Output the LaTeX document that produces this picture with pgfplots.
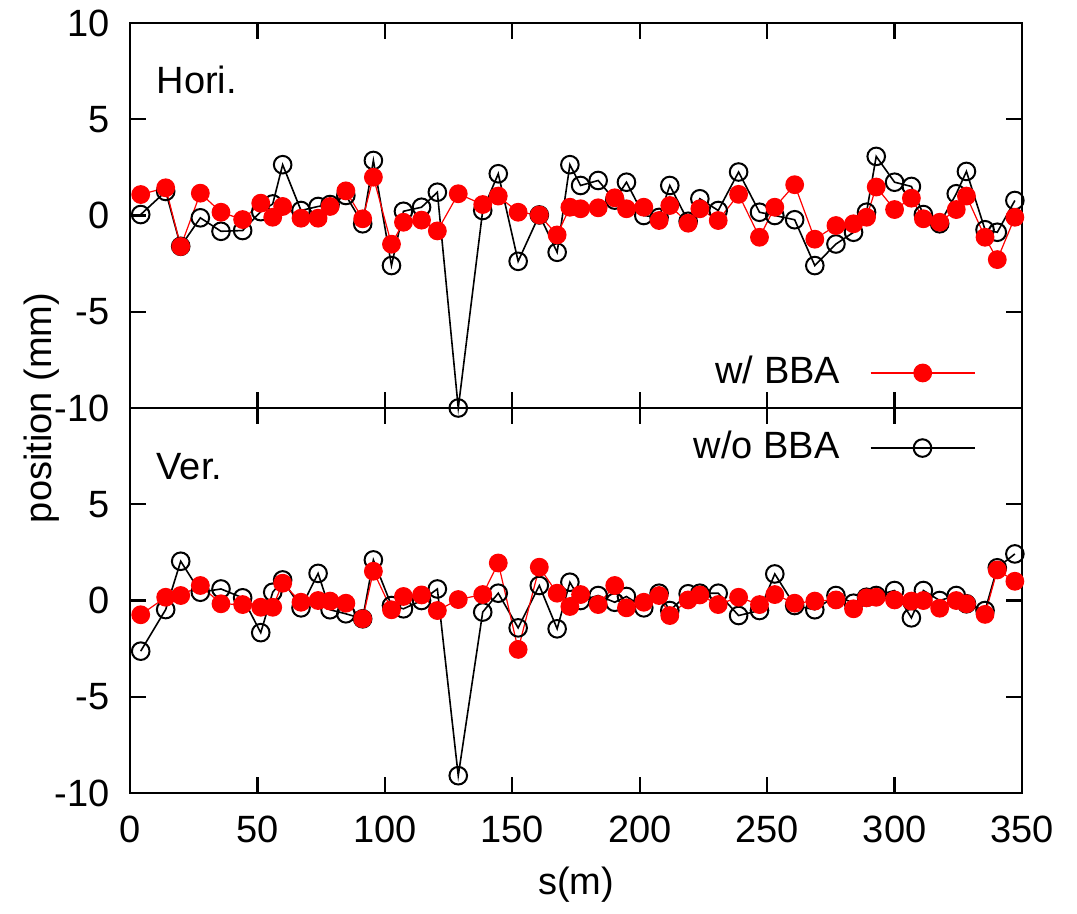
\documentclass[border=0pt]{standalone}
\usepackage{fontspec}
\setmainfont{Liberation Sans}
\usepackage{pgfplots}
\usepackage{pgfplotstable}
\pgfplotsset{compat=1.18}

\pgfplotstableread{
s hb hn vb vn
4.2 1.09 0.05 -0.74 -2.63
14.0 1.44 1.25 0.17 -0.47
19.9 -1.61 -1.60 0.26 2.04
27.6 1.16 -0.12 0.78 0.43
35.7 0.17 -0.82 -0.17 0.60
44.2 -0.21 -0.78 -0.21 0.14
51.3 0.64 0.20 -0.35 -1.67
56.0 -0.09 0.60 -0.35 0.43
59.9 0.47 2.64 0.90 1.07
67.1 -0.14 0.26 -0.09 -0.38
73.8 -0.14 0.47 0.00 1.41
78.5 0.47 0.57 -0.03 -0.48
84.7 1.28 1.04 -0.14 -0.69
91.3 -0.17 -0.43 -0.95 -0.95
95.5 1.99 2.86 1.52 2.11
102.6 -1.49 -2.60 -0.48 -0.26
107.3 -0.35 0.22 0.21 -0.43
114.4 -0.24 0.43 0.29 0.00
120.6 -0.80 1.21 -0.52 0.60
128.8 1.13 -10.0 0.05 -9.1
138.4 0.57 0.26 0.31 -0.60
144.5 1.01 2.17 1.95 0.38
152.3 0.17 -2.38 -2.54 -1.42
160.6 0.03 0.03 1.73 0.78
167.6 -1.01 -1.91 0.38 -1.47
172.6 0.43 2.64 -0.31 0.95
176.8 0.35 1.56 0.31 0.00
183.7 0.40 1.82 -0.21 0.26
190.2 0.92 0.80 0.78 -0.09
194.8 0.35 1.73 -0.38 0.21
201.6 0.43 0.00 -0.09 -0.38
207.6 -0.26 -0.10 0.26 0.38
211.8 0.52 1.56 -0.78 -0.52
219.0 -0.40 -0.30 0.03 0.35
223.6 0.35 0.87 0.29 0.38
230.8 -0.26 0.26 -0.21 0.38
238.8 1.10 2.26 0.17 -0.78
247.0 -1.13 0.17 -0.21 -0.52
253.0 0.43 0.00 0.31 1.38
260.8 1.60 -0.22 -0.14 -0.26
268.7 -1.23 -2.60 -0.03 -0.48
277.0 -0.52 -1.48 0.03 0.26
283.9 -0.43 -0.87 -0.43 -0.14
289.0 -0.09 0.17 0.14 0.17
292.8 1.48 3.07 0.17 0.26
300.0 0.31 1.73 0.03 0.52
306.6 0.90 1.51 -0.03 -0.90
311.3 -0.17 0.05 0.00 0.52
317.7 -0.35 -0.43 -0.40 0.00
324.2 0.31 1.13 0.00 0.26
328.2 1.01 2.29 -0.17 -0.17
335.5 -1.13 -0.74 -0.72 -0.52
340.3 -2.29 -0.87 1.59 1.70
347.2 -0.09 0.78 1.00 2.42
}\datatab

\pgfplotsset{
  myax/.style={
    scale only axis, width=223pt, height=96.25pt,
    xmin=0, xmax=350, ymin=-10, ymax=10,
    xtick={0,50,...,350}, ytick={-10,-5,0,5,10},
    tick align=inside, major tick length=4pt,
    tick style={line width=0.6pt, black},
    axis line style={line width=0.7pt},
    tick label style={font=\fontsize{9.5}{11}\selectfont},
    xticklabel style={yshift=-2.2pt},
    yticklabel style={xshift=-1.6pt},
    /pgf/number format/assume math mode=true,
    clip=false,
    legend plot pos=right,
    legend cell align=right,
    legend style={draw=none, fill=none, font=\fontsize{9.5}{11}\selectfont, anchor=east, column sep=5.5pt},
    legend image code/.code={\draw[mark repeat=2,mark phase=2] plot coordinates {(0pt,0pt) (13pt,0pt) (26pt,0pt)};},
  },
  blk/.style={black, line width=0.4pt, mark=o, mark size=2.2pt, mark options={line width=0.5pt, black}},
  rd/.style={red, line width=0.3pt, mark=*, mark size=2.2pt, mark options={fill=red, draw=red}},
}

\begin{document}
\begin{tikzpicture}
\path[use as bounding box] (-32.5pt,-30pt) rectangle (236.75pt,198.25pt);
% bottom panel
\begin{axis}[myax, at={(0pt,0pt)}, anchor=south west,
  yticklabels={-10,-5,0,5,{}},
  legend style={at={(0.962,0.896)}}]
\addplot[blk] table[x=s, y=vn] {\datatab};
\addlegendentry{w/o BBA}
\addplot[rd, forget plot] table[x=s, y=vb] {\datatab};
\node[anchor=west, font=\fontsize{9.5}{11}\selectfont] at (rel axis cs:0.014,0.847) {Ver.};
\end{axis}
% top panel
\begin{axis}[myax, at={(0pt,96.25pt)}, anchor=south west,
  xticklabels={},
  legend style={at={(0.962,0.091)}}]
\addplot[blk, forget plot] table[x=s, y=hn] {\datatab};
\addplot[rd] table[x=s, y=hb] {\datatab};
\addlegendentry{w/ BBA}
\node[anchor=west, font=\fontsize{9.5}{11}\selectfont] at (rel axis cs:0.014,0.852) {Hori.};
\end{axis}
\node[rotate=90, font=\fontsize{9.5}{11}\selectfont] at (-22pt,96.25pt) {position (mm)};
\node[font=\fontsize{9.5}{11}\selectfont] at (111.5pt,-23pt) {s(m)};
\end{tikzpicture}
\end{document}
